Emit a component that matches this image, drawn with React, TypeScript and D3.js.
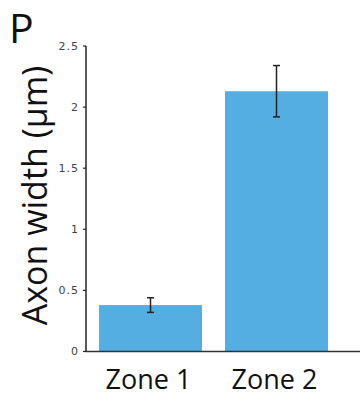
import React from "react";
import * as d3 from "d3";

const categories = ["Zone 1", "Zone 2"];
const means = [0.38, 2.13];
const errLow = [0.32, 1.92];
const errHigh = [0.44, 2.34];
const yTicks = [0, 0.5, 1, 1.5, 2, 2.5];
const yTickLabels = ["0", "0.5", "1", "1.5", "2", "2.5"];
const yLabel = "Axon width (μm)";
const panelLetter = "P";

const W = 360;
const H = 397;
const axisX = 86;
const y0 = 351.5;
const yTop = 46;

export default function App() {
  const y = d3.scaleLinear().domain([0, 2.5]).range([y0, yTop]);
  const x = d3
    .scaleBand<string>()
    .domain(categories)
    .range([87.5, 339.5])
    .paddingInner(0.1825)
    .paddingOuter(0.0913);
  const bw = x.bandwidth();
  const sans = "'Open Sans', 'Noto Sans', sans-serif";
  return (
    <svg
      width={W}
      height={H}
      style={{ position: "absolute", left: 0, top: 0, background: "#fff" }}
    >
      <text x={9} y={43} fontFamily={sans} fontSize={41} fill="#111">
        {panelLetter}
      </text>
      <text
        transform={`translate(47,${(68 + 323) / 2}) rotate(-90)`}
        textAnchor="middle"
        fontFamily={sans}
        fontSize={34}
        fill="#111"
      >
        {yLabel}
      </text>
      {categories.map((c, i) => (
        <rect
          key={c}
          x={x(c)}
          y={y(means[i])}
          width={bw}
          height={y0 - y(means[i])}
          fill="#55AEE1"
        />
      ))}
      {categories.map((c, i) => {
        const cx = (x(c) as number) + bw / 2;
        return (
          <g key={"e" + c} stroke="#222" strokeWidth={1.5}>
            <line x1={cx} x2={cx} y1={y(errLow[i])} y2={y(errHigh[i])} />
            <line x1={cx - 3.5} x2={cx + 3.5} y1={y(errLow[i])} y2={y(errLow[i])} />
            <line x1={cx - 3.5} x2={cx + 3.5} y1={y(errHigh[i])} y2={y(errHigh[i])} />
          </g>
        );
      })}
      <line x1={axisX} x2={axisX} y1={yTop} y2={y0} stroke="#222" strokeWidth={1.5} />
      <line x1={axisX} x2={W} y1={y0} y2={y0} stroke="#333" strokeWidth={1.5} />
      {yTicks.map((t, i) => (
        <g key={t}>
          <line x1={axisX - 3} x2={axisX} y1={y(t)} y2={y(t)} stroke="#222" strokeWidth={1.2} />
          <text
            x={axisX - 7}
            y={y(t)}
            dy="0.35em"
            textAnchor="end"
            fontFamily="'DejaVu Sans', sans-serif"
            fontSize={11}
            letterSpacing={1}
            fill="#444"
          >
            {yTickLabels[i]}
          </text>
        </g>
      ))}
      {categories.map((c) => (
        <text
          key={"l" + c}
          x={(x(c) as number) + bw / 2 - 2}
          y={389}
          textAnchor="middle"
          fontFamily={sans}
          fontSize={27}
          fill="#111"
        >
          {c}
        </text>
      ))}
    </svg>
  );
}
